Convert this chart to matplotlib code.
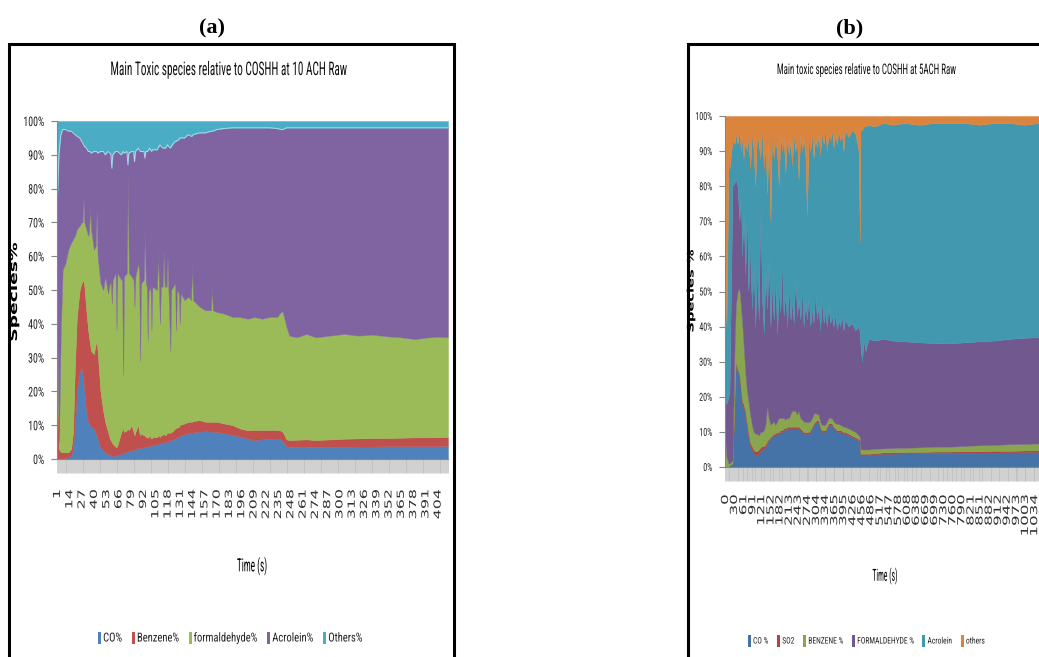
import numpy as np
import matplotlib.pyplot as plt
import matplotlib.patheffects as pe
from matplotlib.patches import Rectangle
from matplotlib.ticker import MultipleLocator
from matplotlib.transforms import Affine2D

# ---------------- data (a): 10 ACH, categories 1..415 ----------------
cat_a = [1, 3, 5, 7, 10, 13, 16, 18, 20, 22,
         25, 27, 28, 29, 30, 32, 34, 35, 36, 37,
         40, 42, 43, 44, 47, 50, 52, 55, 57, 58,
         59, 60, 63, 64, 65, 69, 70, 71, 72, 75,
         76, 77, 80, 82, 83, 84, 87, 88, 89, 90,
         93, 94, 95, 96, 97, 98, 99, 100, 101, 102,
         107, 108, 109, 110, 111, 113, 114, 115, 116, 117,
         118, 119, 121, 122, 126, 127, 128, 130, 131, 132,
         136, 140, 143, 144, 145, 152, 158, 164, 165, 166,
         170, 178, 187, 195, 203, 210, 218, 226, 234, 238,
         240, 244, 247, 255, 265, 275, 290, 305, 320, 335,
         350, 365, 380, 395, 405, 415]
co_a = [0, 0, 0, 0, 0.3, 0.5, 1, 3, 10, 20,
        26, 27, 25, 23, 20, 14, 11, 10.5, 10, 9.7,
        9, 7.5, 7, 6, 3.5, 2.5, 1.8, 1.5, 1.2, 1.1,
        1, 1, 1, 1, 1.1, 1.5, 1.7, 1.8, 1.9, 2.1,
        2.2, 2.3, 2.6, 2.7, 2.8, 2.9, 3.2, 3.2, 3.2, 3.3,
        3.5, 3.5, 3.5, 3.6, 3.7, 3.75, 3.8, 3.9, 4, 4.05,
        4.4, 4.5, 4.55, 4.6, 4.7, 4.8, 4.9, 4.95, 5, 5.1,
        5.2, 5.3, 5.5, 5.6, 6, 6.2, 6.4, 6.7, 6.8, 6.9,
        7.3, 7.6, 7.8, 7.8, 7.9, 8.1, 8.2, 8.1, 8.1, 8.1,
        8, 7.6, 7.1, 6.6, 6, 5.6, 5.8, 6, 6, 5.8,
        5, 3.8, 3.6, 3.6, 3.6, 3.6, 3.6, 3.6, 3.7, 3.7,
        3.8, 3.8, 3.8, 3.8, 3.8, 3.9]
benzene_a = [42, 3, 2, 2, 1.7, 1.5, 2, 5, 18, 22,
             24, 25, 27.5, 30, 31, 30, 27, 25.5, 24, 22.3,
             22, 26.5, 28, 26, 16.5, 11.5, 9.2, 6.5, 4.8, 4.4,
             4, 3.5, 2.6, 2.5, 2.9, 6.5, 6.8, 7.2, 6.1, 6.4,
             6.8, 6.2, 7.4, 5.3, 4.2, 5.1, 6.8, 4.8, 3.8, 4.2,
             3.5, 3.5, 3, 2.8, 2.6, 2.75, 3.2, 2.6, 2, 2.45,
             2.1, 2.5, 2.25, 1.9, 2.3, 2.4, 2.4, 2.25, 2, 2.4,
             2.8, 2.4, 2.3, 2.3, 3, 3, 2.9, 2.8, 3.2, 3.3,
             3.2, 3.4, 3.2, 3.2, 3.3, 3.4, 2.8, 2.9, 2.9, 2.9,
             3, 2.9, 2.9, 2.4, 2.5, 3, 2.8, 2.6, 2.6, 2.6,
             3, 2, 2, 2.1, 2.2, 2, 2.2, 2.4, 2.4, 2.5,
             2.4, 2.5, 2.6, 2.6, 2.7, 2.6]
formaldehyde_a = [2, 2, 36, 54, 56, 60, 61, 57, 38, 26,
                  19, 18, 17.5, 24, 19, 24, 28, 31, 41, 36,
                  31, 29, 39, 28, 32, 36, 43, 41, 46, 46.5,
                  41, 48.5, 51.4, 34.5, 51, 45, 44.5, 16, 46, 46.5,
                  76, 46.5, 44, 45, 38, 46, 48, 47, 22, 44.5,
                  46, 61, 45.5, 44.6, 28.7, 43.5, 43, 44.5, 32, 44.5,
                  43.5, 55, 43.2, 33.5, 44, 43.8, 54.7, 43.8, 44, 43.5,
                  52, 42.3, 24.2, 42.1, 43, 28.8, 40.7, 39.5, 30, 38.8,
                  36.5, 37, 36, 47, 35.8, 33.5, 33, 33, 40, 33,
                  32.5, 32.5, 32, 33, 33, 33.4, 32.9, 33.4, 33.4, 35.1,
                  35.6, 33.2, 30.9, 30.3, 31.2, 30.4, 30.7, 31, 30.4, 30.6,
                  30.1, 29.7, 29.1, 29.6, 29.7, 29.5]
acrolein_a = [30, 85, 58, 41.5, 39.5, 35, 33, 31.5, 30, 27.5,
              26, 24, 23.5, 16, 22.5, 24, 25, 24, 16, 22.5,
              29, 28, 17, 30.5, 39, 41, 36, 42, 38.5, 38,
              40, 37, 36, 53, 36, 37, 37.5, 66, 36.5, 36,
              2, 35.5, 37, 38, 43, 37, 34, 36.5, 62, 39,
              38, 21, 39, 40, 56, 41.5, 42, 40.5, 53, 40.5,
              41.5, 30, 42.5, 53, 41.5, 41, 30, 41, 41, 41.5,
              33, 42.5, 60, 42.5, 42, 56, 44.2, 45.5, 55, 46,
              48, 48, 48.5, 37.5, 49, 51.5, 52.5, 53, 46, 53,
              54, 54.8, 56, 56, 56.5, 56, 56.5, 56, 55.8, 54,
              53.9, 59, 61.5, 62, 61, 62, 61.5, 61, 61.5, 61.2,
              61.7, 62, 62.5, 62, 61.8, 62]
others_a = [26, 10, 4, 2.5, 2.5, 3, 3, 3.5, 4, 4.5,
            5, 6, 6.5, 7, 7.5, 8, 9, 9, 9, 9.5,
            9, 9, 9, 9.5, 9, 9, 10, 9, 9.5, 10,
            14, 10, 9, 9, 9, 10, 9.5, 9, 9.5, 9,
            13, 9.5, 9, 9, 12, 9, 8, 8.5, 9, 9,
            9, 11, 9, 9, 9, 8.5, 8, 8.5, 9, 8.5,
            8.5, 8, 7.5, 7, 7.5, 8, 8, 8, 8, 7.5,
            7, 7.5, 8, 7.5, 6, 6, 5.8, 5.5, 5, 5,
            5, 4, 4.5, 4.5, 4, 3.5, 3.5, 3, 3, 3,
            2.5, 2.2, 2, 2, 2, 2, 2, 2, 2.2, 2.5,
            2.5, 2, 2, 2, 2, 2, 2, 2, 2, 2,
            2, 2, 2, 2, 2, 2]
labels_a = ['CO%', 'Benzene%', 'formaldehyde%', 'Acrolein%', 'Others%']
colors_a = ['#4F81BD', '#C0504D', '#9BBB59', '#8064A2', '#4BACC6']
ticks_a = [1, 14, 27, 40, 53, 66, 79, 92, 105, 118, 131, 144, 157, 170, 183, 196,
           209, 222, 235, 248, 261, 274, 287, 300, 313, 326, 339, 352, 365, 378, 391, 404]

# ---------------- data (b): 5 ACH, time in s ----------------
time_b = [0, 5, 12, 15, 25, 32, 36, 42, 48, 53,
          57, 62, 68, 73, 78, 84, 90, 96, 101, 107,
          113, 118, 124, 130, 135, 141, 146, 152, 157, 163,
          168, 174, 180, 185, 191, 196, 202, 208, 213, 219,
          224, 230, 235, 241, 246, 252, 258, 263, 269, 274,
          280, 285, 291, 296, 302, 307, 313, 318, 324, 330,
          335, 341, 346, 352, 358, 363, 369, 374, 380, 385,
          391, 396, 402, 413, 424, 436, 447, 451, 453, 458,
          464, 470, 480, 500, 530, 560, 600, 650, 700, 750,
          800, 850, 900, 950, 1000, 1050, 1085]
co_b = [0, 0, 0, 0.5, 1, 20, 30, 28, 26, 22,
        18, 17, 15, 12, 9, 6, 5, 4, 3.3, 3.5,
        3.8, 4.5, 5, 5.2, 5.5, 7, 7.5, 8, 8.5, 9,
        9, 9.5, 9.5, 10, 10, 10.5, 10.5, 11, 11, 11,
        11, 11, 11, 11, 11, 10.5, 10, 9.5, 9.5, 9.5,
        9.5, 10, 11, 12, 12.5, 12.8, 12.8, 11, 10, 10,
        10, 11, 12, 12, 11.9, 11, 10.5, 10, 10, 10,
        9.8, 9.5, 9.5, 9, 8.5, 8, 7.6, 7, 3.3, 3.3,
        3.3, 3.3, 3.4, 3.6, 3.8, 3.8, 3.9, 3.9, 4, 4,
        4, 4.1, 4.1, 4.2, 4.2, 4.3, 4.3]
so2_b = [0, 0, 0, 0, 0, 0, 0, 0, 0.5, 0.5,
         1, 1, 1, 1, 1, 1, 1, 1, 1.2, 1,
         1.2, 1, 1, 0.8, 1, 0.5, 0.5, 0.5, 0.5, 0.5,
         0.5, 0.5, 0.5, 0.5, 0.5, 0.5, 0.5, 0.5, 0.5, 0.5,
         0.5, 0.5, 0.5, 0.5, 0.5, 0.5, 0.5, 0.5, 0.5, 0.5,
         0.5, 0.5, 0.5, 0.5, 0.5, 0.5, 0.5, 0.5, 0.5, 0.5,
         0.5, 0.5, 0.5, 0.5, 0.5, 0.5, 0.5, 0.5, 0.5, 0.5,
         0.5, 0.5, 0.5, 0.5, 0.5, 0.5, 0.4, 0.5, 0.5, 0.5,
         0.5, 0.5, 0.4, 0.3, 0.4, 0.4, 0.4, 0.4, 0.4, 0.4,
         0.5, 0.4, 0.5, 0.4, 0.5, 0.5, 0.5]
benzene_b = [9, 3, 1, 0.5, 1, 15, 16, 22, 24.5, 23.5,
             23, 17, 11, 9, 9, 8, 6, 5, 5, 5,
             4, 4.5, 4, 4.5, 5.5, 10, 6, 3.5, 3.5, 3.5,
             2.5, 3, 4, 3.5, 3.5, 3, 2.5, 2.5, 2.3, 3.5,
             4.5, 4.5, 4.5, 3.5, 4.5, 3, 3, 3, 2.8, 2.8,
             2.8, 2.5, 2.5, 2.5, 2.5, 1.7, 1.7, 1.5, 1.5, 1.5,
             1.5, 1.5, 1.5, 1.5, 1.4, 1.5, 1.5, 1.8, 1.8, 1.5,
             1.5, 1.5, 1.4, 1.5, 1.5, 1.5, 1, 1, 1.4, 1.2,
             1.2, 1.2, 1.2, 1.3, 1.1, 1.2, 1.2, 1.3, 1.4, 1.4,
             1.5, 1.7, 1.7, 1.9, 1.9, 1.9, 2]
formaldehyde_b = [11, 15, 19, 21, 78, 46, 36, 30, 19, 32,
                  18, 37, 28, 53, 31, 47, 33, 48, 30.5, 45.5,
                  33, 65, 38, 27.5, 44, 27.5, 46, 28, 39.5, 29,
                  43, 25, 36, 30, 44, 29, 36.5, 26, 38.2, 27,
                  31, 25, 39, 28, 32, 28, 36.5, 27, 34.2, 29.2,
                  36.2, 27, 31, 26, 34.5, 27, 31, 26, 35, 29,
                  32, 27, 32, 27, 29.2, 27, 31.5, 26.7, 29.7, 28,
                  31.2, 27.5, 30.6, 29, 30.5, 29, 31, 29.5, 29.5, 25,
                  31, 28, 31.5, 30.8, 31.2, 30.6, 30.3, 29.9, 29.5, 29.4,
                  29.5, 29.6, 29.7, 30, 30.2, 30.3, 30.2]
acrolein_b = [40, 22, 70, 63, 13, 11, 13, 12, 26, 12,
              34, 16, 38, 15, 44, 23, 50, 32, 40, 40,
              50, 13, 48, 47, 36, 33, 34, 30, 43, 46,
              38, 52, 30, 51, 32, 51, 34, 55, 37, 51,
              39, 54, 35, 50, 34, 53, 40, 54, 41, 30,
              45, 50, 50, 47, 44, 49, 49, 50, 48, 51,
              52, 50, 49, 52, 53, 51, 51, 53, 54, 53,
              52, 51, 54, 54, 55, 56, 50, 26, 61.3, 66,
              61, 64, 61, 61, 61.5, 61.5, 62.2, 62, 62.7, 62.8,
              62.5, 61.7, 62, 61.5, 60.7, 61, 61]
others_b = [40, 60, 10, 15, 7, 8, 5, 8, 4, 10,
            6, 12, 7, 10, 6, 15, 5, 10, 20, 5,
            8, 12, 4, 15, 8, 22, 6, 30, 5, 12,
            7, 10, 20, 5, 10, 6, 16, 5, 11, 7,
            14, 5, 10, 7, 18, 5, 10, 6, 12, 28,
            6, 10, 5, 12, 6, 9, 5, 11, 5, 8,
            4, 10, 5, 7, 4, 9, 5, 8, 4, 7,
            5, 10, 4, 6, 4, 5, 10, 36, 4, 4,
            3, 3, 2.5, 3, 2, 2.5, 2, 2.5, 2, 2,
            2, 2.5, 2, 2, 2.5, 2, 2]
labels_b = ['CO %', 'SO2', 'BENZENE %', 'FORMALDEHYDE %', 'Acrolein', 'others']
colors_b = ['#4572A7', '#AA4643', '#89A54E', '#71588F', '#4198AF', '#DB843D']
ticks_b = [0, 30, 61, 91, 121, 152, 182, 213, 243, 274, 304, 334, 365, 395, 426, 456, 486, 517,
           547, 578, 608, 638, 669, 699, 730, 760, 790, 821, 851, 882, 912, 942, 973, 1003, 1034]

plt.rcParams['font.family'] = ['Roboto Condensed', 'Lato', 'DejaVu Sans']

W, H = 1039, 657
fig = plt.figure(figsize=(W / 100, H / 100), dpi=100)
renderer = fig.canvas.get_renderer()


class Squeeze(pe.AbstractPathEffect):
    # the excel export was stretched, so glyphs are drawn narrower (or longer)
    def __init__(self, sx, anchor='center'):
        super().__init__()
        self.sx = sx
        self.anchor = anchor

    def draw_path(self, renderer, gc, tpath, affine, rgbFace=None):
        ext = tpath.get_extents()
        if self.anchor == 'left':
            cx = ext.x0
        elif self.anchor == 'right':
            cx = ext.x1
        else:
            cx = (ext.x0 + ext.x1) / 2
        tr = Affine2D().translate(-cx, 0).scale(self.sx, 1).translate(cx, 0) + affine
        renderer.draw_path(gc, tpath, tr, rgbFace)


def fit_text(txt, length_px, anchor='center', vertical=False):
    bb = txt.get_window_extent(renderer)
    natural = bb.height if vertical else bb.width
    txt.set_path_effects([Squeeze(length_px / natural, anchor)])


def px_box(x0, y0, x1, y1):
    return [x0 / W, 1 - y1 / H, (x1 - x0) / W, (y1 - y0) / H]


def style_axis(ax, ticks, minor_step, xfs, xpad, xlen, yfs, ywidth):
    ax.set_ylim(0, 100)
    ax.set_yticks(range(0, 101, 10))
    ax.set_yticklabels([str(v) + '%' for v in range(0, 101, 10)], fontsize=yfs, color='#222222')
    ax.set_xticks(ticks)
    ax.set_xticklabels([str(t) for t in ticks], rotation=90, fontsize=xfs,
                       family='DejaVu Sans', color='#333333')
    ax.xaxis.set_minor_locator(MultipleLocator(minor_step))
    ax.tick_params(axis='x', which='both', length=10, width=0.5, color='#BDBDBD', pad=xpad)
    ax.tick_params(axis='y', length=4, width=0.8, color='#868686', pad=5)
    for s in ['top', 'right']:
        ax.spines[s].set_visible(False)
    for s in ['left', 'bottom']:
        ax.spines[s].set_color('#868686')
    # squeeze / stretch tick labels like the exported picture
    ylabels = ax.get_yticklabels()
    sy = ywidth / ylabels[-1].get_window_extent(renderer).width
    for lb in ylabels:
        lb.set_path_effects([Squeeze(sy, 'right')])
    longest = ax.get_xticklabels()[-1].get_window_extent(renderer).height
    for lb in ax.get_xticklabels():
        lb.set_path_effects([Squeeze(xlen / longest, 'right')])


def add_legend(labels, colors, x0, y, total, fs, gap=10, mw=3, mh=12, pad=2):
    texts = [fig.text(0, 1 - y / H, lab, fontsize=fs, ha='left', va='center', color='#222222')
             for lab in labels]
    n = len(labels)
    room = total - n * (mw + pad) - gap * (n - 1)
    widths = [t.get_window_extent(renderer).width for t in texts]
    s = room / sum(widths)
    if s < 0.85:
        # shrink the font so only a light squeeze is left
        for t in texts:
            t.set_fontsize(fs * s / 0.85)
        widths = [t.get_window_extent(renderer).width for t in texts]
        s = room / sum(widths)
    x = x0
    for t, w, c in zip(texts, widths, colors):
        fig.add_artist(Rectangle((x / W, 1 - (y + mh / 2) / H), mw / W, mh / H,
                                 transform=fig.transFigure, color=c, lw=0))
        x += mw + pad
        t.set_x(x / W)
        t.set_path_effects([Squeeze(s, 'left')])
        x += s * w + gap


# ---- chart (a)
axa = fig.add_axes(px_box(57, 121, 448, 459))
axa.stackplot(cat_a, co_a, benzene_a, formaldehyde_a, acrolein_a, others_a,
              colors=colors_a, labels=labels_a, edgecolor='face', linewidth=0.3)
# light seam along the top of the acrolein band, as in the export
axa.plot(cat_a, 100 - np.array(others_a), color='white', lw=0.6, alpha=0.6)
axa.set_xlim(1, 415)
style_axis(axa, ticks_a, 1, 7, 12, 30, 9.5, 21)

# ---- chart (b)
axb = fig.add_axes(px_box(725, 116, 725 + 1085 * 0.299, 467))
axb.stackplot(time_b, co_b, so2_b, benzene_b, formaldehyde_b, acrolein_b, others_b,
              colors=colors_b, labels=labels_b, edgecolor='face', linewidth=0.3)
axb.set_xlim(0, 1085)
style_axis(axb, ticks_b, 3, 7, 10, 42, 8, 17)

# panel frames
fig.add_artist(Rectangle((9 / W, -0.05), (454 - 9) / W, 1 - 44 / H + 0.05,
                         transform=fig.transFigure, fill=False, lw=2.2, ec='black'))
fig.add_artist(Rectangle((688 / W, -0.05), 0.5, 1 - 44 / H + 0.05,
                         transform=fig.transFigure, fill=False, lw=2.2, ec='black'))

# panel letters
fig.text(212 / W, 1 - 28 / H, '(a)', fontsize=16, fontweight='bold',
         family='Liberation Serif', ha='center', va='center')
fig.text(850 / W, 1 - 28 / H, '(b)', fontsize=16, fontweight='bold',
         family='Liberation Serif', ha='center', va='center')

# titles
t = fig.text(228 / W, 1 - 70 / H, 'Main Toxic species relative to COSHH at 10 ACH Raw',
             fontsize=13.5, ha='center', va='center', color='#111111')
fit_text(t, 236)
t = fig.text(867 / W, 1 - 70 / H, 'Main toxic species relative to COSHH at 5ACH Raw',
             fontsize=10.5, ha='center', va='center', color='#111111')
fit_text(t, 180)

# axis titles
t = fig.text(14 / W, 1 - 292 / H, 'Species%', rotation=90, fontsize=8, fontweight='bold',
             family='DejaVu Sans', ha='center', va='center')
fit_text(t, 99, vertical=True)
t = fig.text(691 / W, 1 - 291 / H, 'Species %', rotation=90, fontsize=6.5, fontweight='bold',
             family='DejaVu Sans', ha='center', va='center')
fit_text(t, 83, vertical=True)
t = fig.text(252 / W, 1 - 566 / H, 'Time (s)', fontsize=13, ha='center', va='center')
fit_text(t, 30)
t = fig.text(885 / W, 1 - 576 / H, 'Time (s)', fontsize=12, ha='center', va='center')
fit_text(t, 25)

# legends
add_legend(labels_a, colors_a, 98, 638, 264, 12)
add_legend(labels_b, colors_b, 748, 641, 237, 11, gap=9)

fig.savefig('out.png', dpi=100)
